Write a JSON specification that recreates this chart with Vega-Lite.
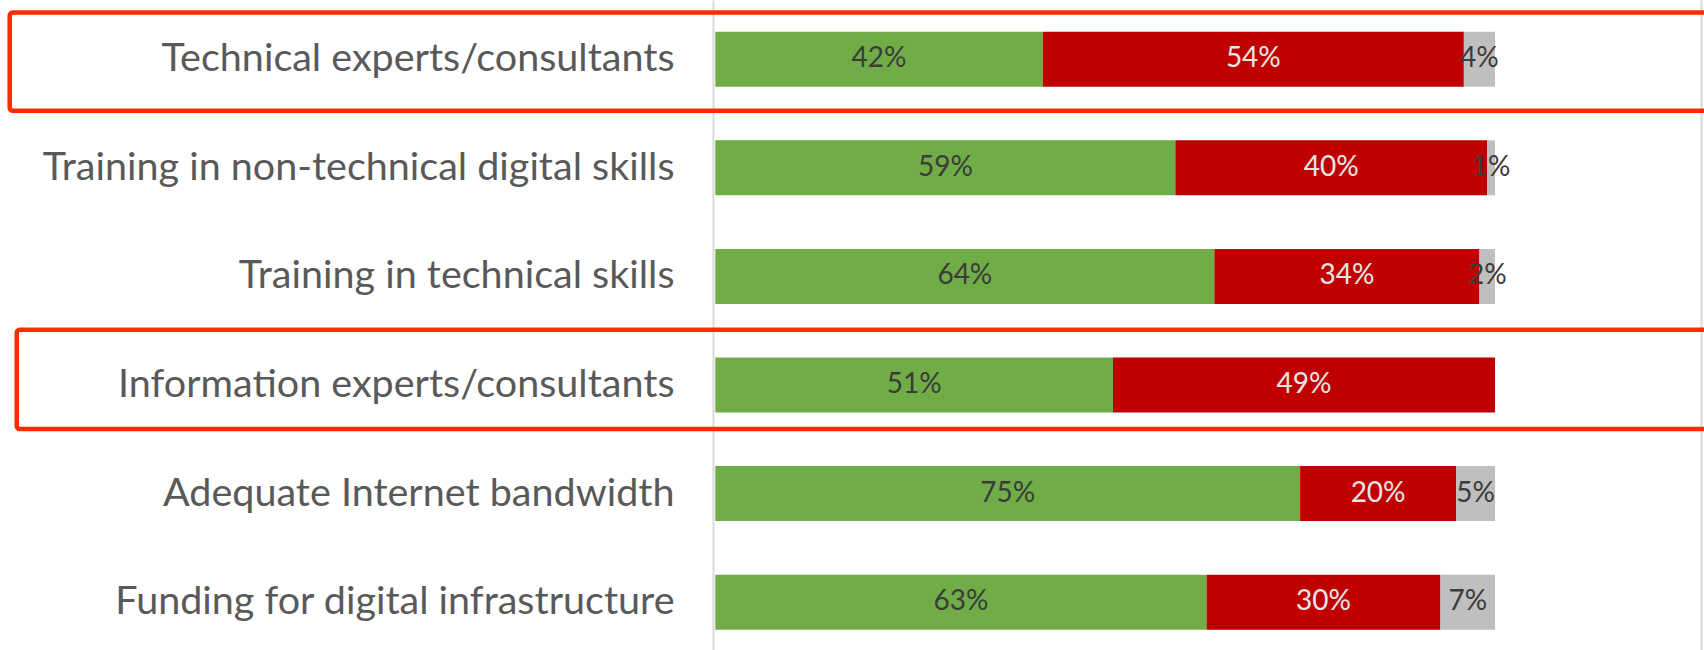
{
  "$schema": "https://vega.github.io/schema/vega-lite/v6.json",
  "width": 991,
  "height": 650,
  "autosize": {"type": "none"},
  "padding": {"left": 713, "top": 0, "right": 0, "bottom": 0},
  "background": "white",
  "config": {"view": {"stroke": null}, "font": "Lato"},
  "data": {"values": [
      {"item": "Technical experts/consultants", "response": "Yes", "seq": 1, "pct": 0.42},
      {"item": "Technical experts/consultants", "response": "No", "seq": 2, "pct": 0.54},
      {"item": "Technical experts/consultants", "response": "Don't know", "seq": 3, "pct": 0.04},
      {"item": "Training in non-technical digital skills", "response": "Yes", "seq": 1, "pct": 0.59},
      {"item": "Training in non-technical digital skills", "response": "No", "seq": 2, "pct": 0.40},
      {"item": "Training in non-technical digital skills", "response": "Don't know", "seq": 3, "pct": 0.01},
      {"item": "Training in technical skills", "response": "Yes", "seq": 1, "pct": 0.64},
      {"item": "Training in technical skills", "response": "No", "seq": 2, "pct": 0.34},
      {"item": "Training in technical skills", "response": "Don't know", "seq": 3, "pct": 0.02},
      {"item": "Information experts/consultants", "response": "Yes", "seq": 1, "pct": 0.51},
      {"item": "Information experts/consultants", "response": "No", "seq": 2, "pct": 0.49},
      {"item": "Information experts/consultants", "response": "Don't know", "seq": 3, "pct": 0.0},
      {"item": "Adequate Internet bandwidth", "response": "Yes", "seq": 1, "pct": 0.75},
      {"item": "Adequate Internet bandwidth", "response": "No", "seq": 2, "pct": 0.20},
      {"item": "Adequate Internet bandwidth", "response": "Don't know", "seq": 3, "pct": 0.05},
      {"item": "Funding for digital infrastructure", "response": "Yes", "seq": 1, "pct": 0.63},
      {"item": "Funding for digital infrastructure", "response": "No", "seq": 2, "pct": 0.30},
      {"item": "Funding for digital infrastructure", "response": "Don't know", "seq": 3, "pct": 0.07}
  ]},
  "layer": [
    {
      "mark": {"type": "bar"},
      "encoding": {
        "y": {
          "field": "item", "type": "nominal",
          "sort": ["Technical experts/consultants", "Training in non-technical digital skills", "Training in technical skills", "Information experts/consultants", "Adequate Internet bandwidth", "Funding for digital infrastructure"],
          "scale": {"paddingInner": 0.4935, "paddingOuter": 0.2394, "align": 0.61},
          "axis": {"title": null, "ticks": false, "grid": false, "labelFontSize": 39.5, "labelFont": "Lato", "labelColor": "#595959", "labelPadding": 39, "labelLimit": 0, "domainColor": "#d9d9d9", "domainWidth": 2}
        },
        "x": {
          "field": "pct", "type": "quantitative", "stack": "zero",
          "scale": {"domain": [-0.003, 1.268], "nice": false, "zero": false},
          "axis": {"title": null, "values": [-0.898, 1.264], "grid": true, "gridColor": "#d9d9d9", "gridWidth": 2, "labels": false, "ticks": false, "domain": false, "orient": "bottom", "zindex": 0}
        },
        "color": {"field": "response", "type": "nominal", "scale": {"domain": ["Yes", "No", "Don't know"], "range": ["#70ad47", "#c00000", "#bfbfbf"]}, "legend": null},
        "order": {"field": "seq", "type": "quantitative"}
      }
    },
    {
      "transform": [{"filter": "datum.pct > 0"}],
      "mark": {"type": "text", "fontSize": 28, "font": "Lato"},
      "encoding": {
        "y": {"field": "item", "type": "nominal", "sort": ["Technical experts/consultants", "Training in non-technical digital skills", "Training in technical skills", "Information experts/consultants", "Adequate Internet bandwidth", "Funding for digital infrastructure"]},
        "x": {"field": "pct", "type": "quantitative", "stack": "zero", "bandPosition": 0.5},
        "detail": {"field": "response", "type": "nominal"},
        "order": {"field": "seq", "type": "quantitative"},
        "text": {"field": "pct", "type": "quantitative", "format": ".0%"},
        "color": {"condition": {"test": "datum.response === 'No'", "value": "#e6e6e6"}, "value": "#3b3b3b"}
      }
    },
    {
      "transform": [{"filter": "datum.item === 'Technical experts/consultants' && datum.seq === 1"}],
      "mark": {"type": "bar", "filled": false, "stroke": "#ff2a00", "strokeWidth": 4.5, "cornerRadius": 3, "height": 98.3, "yOffset": 2.4},
      "encoding": {
        "y": {"field": "item", "type": "nominal", "sort": ["Technical experts/consultants", "Training in non-technical digital skills", "Training in technical skills", "Information experts/consultants", "Adequate Internet bandwidth", "Funding for digital infrastructure"]},
        "x": {"datum": -0.905, "type": "quantitative"},
        "x2": {"datum": 1.35}
      }
    },
    {
      "transform": [{"filter": "datum.item === 'Information experts/consultants' && datum.seq === 1"}],
      "mark": {"type": "bar", "filled": false, "stroke": "#ff2a00", "strokeWidth": 4.5, "cornerRadius": 3, "height": 99.2, "yOffset": -5.6},
      "encoding": {
        "y": {"field": "item", "type": "nominal", "sort": ["Technical experts/consultants", "Training in non-technical digital skills", "Training in technical skills", "Information experts/consultants", "Adequate Internet bandwidth", "Funding for digital infrastructure"]},
        "x": {"datum": -0.896, "type": "quantitative"},
        "x2": {"datum": 1.35}
      }
    }
  ]
}
